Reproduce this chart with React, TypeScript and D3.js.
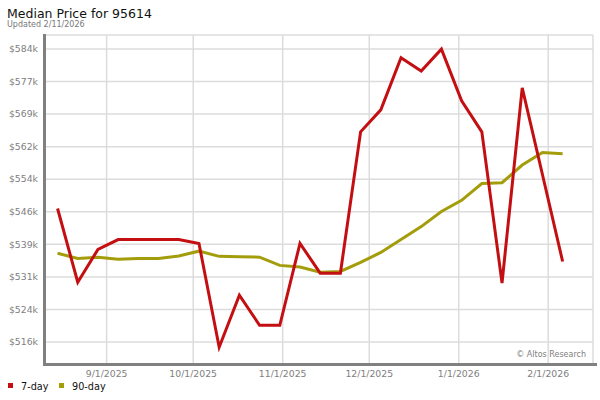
import React, { useEffect, useRef } from "react";
import * as d3 from "d3";

// weekly points, Fridays
const weeks: string[] = [
  "2025-08-15", "2025-08-22", "2025-08-29", "2025-09-05", "2025-09-12", "2025-09-19",
  "2025-09-26", "2025-10-03", "2025-10-10", "2025-10-17", "2025-10-24", "2025-10-31",
  "2025-11-07", "2025-11-14", "2025-11-21", "2025-11-28", "2025-12-05", "2025-12-12",
  "2025-12-19", "2025-12-26", "2026-01-02", "2026-01-09", "2026-01-16", "2026-01-23",
  "2026-01-30", "2026-02-06",
];

// $k
const sevenDay: number[] = [
  547.2, 530.1, 537.7, 540.0, 540.0, 540.0, 540.0, 539.1, 515.0, 527.1, 520.1, 520.1, 539.1,
  532.2, 532.2, 565.0, 570.1, 582.2, 579.1, 584.2, 572.2, 565.0, 529.9, 575.2, 555.1, 534.9,
];

const ninetyDay: number[] = [
  536.8, 535.6, 535.9, 535.4, 535.6, 535.6, 536.2, 537.3, 536.1, 536.0, 535.9, 534.0, 533.6,
  532.4, 532.6, 534.7, 537.0, 540.0, 543.0, 546.5, 549.1, 553.0, 553.2, 557.3, 560.2, 559.9,
];

const yTicks: number[] = [516.2, 523.76, 531.32, 538.88, 546.44, 554.0, 561.56, 569.12, 576.68, 584.24];
const xTicks: string[] = ["2025-09-01", "2025-10-01", "2025-11-01", "2025-12-01", "2026-01-01", "2026-02-01"];

const seriesNames = ["7-day", "90-day"];
const seriesColors = ["#c40f12", "#a39d0b"];

const parse = d3.utcParse("%Y-%m-%d");

const App: React.FC = () => {
  const svgRef = useRef<SVGSVGElement>(null);

  useEffect(() => {
    if (!svgRef.current) return;
    const svg = d3.select(svgRef.current);
    svg.selectAll("*").remove();

    const left = 46;
    const right = 593;
    const top = 35;
    const bottom = 363;

    const x = d3
      .scaleUtc()
      .domain([parse("2025-08-11")!, parse("2026-02-16")!])
      .range([left, 591.5]);
    const y = d3.scaleLinear().domain([511.34, 587.48]).range([bottom, top]);

    const font = "DejaVu Sans, sans-serif";

    svg
      .append("text")
      .attr("x", 7)
      .attr("y", 18)
      .attr("font-family", font)
      .attr("font-size", 12.5)
      .attr("fill", "#111")
      .text("Median Price for 95614");

    svg
      .append("text")
      .attr("x", 7)
      .attr("y", 27)
      .attr("font-family", font)
      .attr("font-size", 8)
      .attr("fill", "#777")
      .text("Updated 2/11/2026");

    const grid = svg.append("g").attr("stroke", "#dcdcdc").attr("stroke-width", 1.5);

    grid
      .selectAll(".hgrid")
      .data(yTicks)
      .enter()
      .append("line")
      .attr("x1", left)
      .attr("x2", right)
      .attr("y1", (d) => y(d))
      .attr("y2", (d) => y(d));

    grid
      .selectAll(".vgrid")
      .data(xTicks)
      .enter()
      .append("line")
      .attr("x1", (d) => x(parse(d)!))
      .attr("x2", (d) => x(parse(d)!))
      .attr("y1", top)
      .attr("y2", bottom);

    grid.append("line").attr("x1", left).attr("x2", right).attr("y1", top).attr("y2", top);
    grid.append("line").attr("x1", right).attr("x2", right).attr("y1", top).attr("y2", bottom);

    // y labels
    svg
      .selectAll(".ylabel")
      .data(yTicks)
      .enter()
      .append("text")
      .attr("x", 38)
      .attr("y", (d) => y(d))
      .attr("dy", "0.35em")
      .attr("text-anchor", "end")
      .attr("font-family", font)
      .attr("font-size", 9.3)
      .attr("fill", "#808080")
      .text((d) => `$${Math.round(d)}k`);

    // x labels
    const fmt = d3.utcFormat("%-m/%-d/%Y");
    svg
      .selectAll(".xlabel")
      .data(xTicks)
      .enter()
      .append("text")
      .attr("x", (d) => x(parse(d)!))
      .attr("y", 377)
      .attr("text-anchor", "middle")
      .attr("font-family", font)
      .attr("font-size", 9.3)
      .attr("fill", "#808080")
      .text((d) => fmt(parse(d)!));

    svg
      .append("text")
      .attr("x", 586)
      .attr("y", 356.5)
      .attr("text-anchor", "end")
      .attr("font-family", font)
      .attr("font-size", 8)
      .attr("fill", "#808080")
      .text("© Altos Research");

    const line = d3
      .line<number>()
      .x((_, i) => x(parse(weeks[i])!))
      .y((d) => y(d));

    [sevenDay, ninetyDay].forEach((vals, k) => {
      svg
        .append("path")
        .datum(vals)
        .attr("d", line)
        .attr("fill", "none")
        .attr("stroke", seriesColors[k])
        .attr("stroke-width", 3)
        .attr("stroke-linejoin", "miter");
    });
    // draw 7-day on top
    svg.select("path").raise();

    // frame bars
    svg.append("rect").attr("x", 43).attr("y", 34).attr("width", 3).attr("height", 332).attr("fill", "#808080");
    svg.append("rect").attr("x", 43).attr("y", 363).attr("width", 554).attr("height", 3).attr("fill", "#808080");

    // legend
    const legend = svg
      .selectAll(".legend")
      .data(seriesNames)
      .enter()
      .append("g")
      .attr("transform", (_, i) => `translate(${8 + i * 51},0)`);
    legend
      .append("rect")
      .attr("x", 0)
      .attr("y", 383)
      .attr("width", 5)
      .attr("height", 5)
      .attr("fill", (_, i) => seriesColors[i]);
    legend
      .append("text")
      .attr("x", 13)
      .attr("y", 390)
      .attr("font-family", font)
      .attr("font-size", 9.7)
      .attr("fill", "#111")
      .text((d) => d);
  }, []);

  return (
    <svg
      ref={svgRef}
      width={600}
      height={400}
      style={{ position: "absolute", left: 0, top: 0, background: "#fff" }}
    />
  );
};

export default App;
